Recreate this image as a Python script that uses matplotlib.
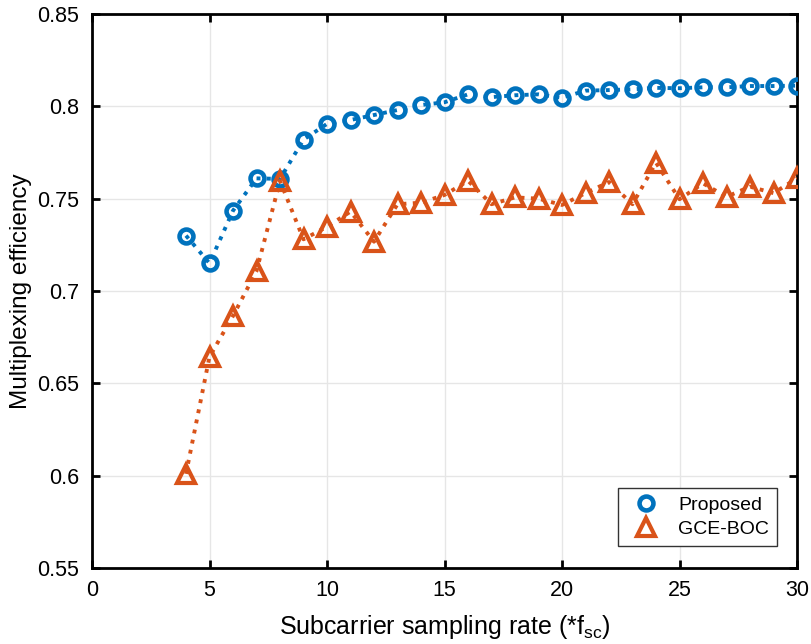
import matplotlib
matplotlib.use("Agg")
import matplotlib.pyplot as plt

plt.rcParams['font.family'] = ['Liberation Sans', 'DejaVu Sans']

x_rate = list(range(4, 31))
proposed = [0.730, 0.715, 0.7435, 0.761, 0.7607, 0.782, 0.7905, 0.7926, 0.7953, 0.798,
            0.8007, 0.8022, 0.8065, 0.805, 0.806, 0.8065, 0.8046, 0.8085, 0.8088, 0.8092,
            0.810, 0.8098, 0.8103, 0.8103, 0.811, 0.811, 0.8112]
gce_boc = [0.601, 0.6644, 0.6865, 0.7108, 0.7596, 0.728, 0.7348, 0.743, 0.7267, 0.747,
           0.7478, 0.752, 0.7597, 0.747, 0.7507, 0.750, 0.7466, 0.753, 0.759, 0.747,
           0.7695, 0.7497, 0.7583, 0.751, 0.7565, 0.753, 0.761]
xticks = [0, 5, 10, 15, 20, 25, 30]
yticks = [0.55, 0.6, 0.65, 0.7, 0.75, 0.8, 0.85]
ytick_labels = ['0.55', '0.6', '0.65', '0.7', '0.75', '0.8', '0.85']

blue = '#0072BD'
orange = '#D95319'

fig = plt.figure(figsize=(8.11, 6.44), dpi=100)
ax = fig.add_axes([92/811, 1-568/644, (797-92)/811, (568-14)/644])

ax.plot(x_rate, proposed, linestyle=':', color=blue, linewidth=2.8,
        marker='o', markersize=10, markeredgewidth=3.3, markerfacecolor='none',
        markeredgecolor=blue, label='Proposed', zorder=3)
ax.plot(x_rate, gce_boc, linestyle=':', color=orange, linewidth=2.8,
        marker='^', markersize=13, markeredgewidth=3.0, markerfacecolor='none',
        markeredgecolor=orange, label='GCE-BOC', zorder=3)

ax.set_xlim(0, 30)
ax.set_ylim(0.55, 0.85)
ax.set_xticks(xticks)
ax.set_yticks(yticks)
ax.set_yticklabels(ytick_labels)
ax.grid(True, color='#e6e6e6', linewidth=1.0)
ax.set_axisbelow(True)
ax.tick_params(direction='in', length=6, width=2, top=True, right=True,
               labelsize=15.5, pad=9, colors='black')
for s in ax.spines.values():
    s.set_linewidth(2)
    s.set_color('black')

ax.set_xlabel('Subcarrier sampling rate (*f$_{\\mathregular{sc}}$)', fontsize=18, labelpad=8)
ax.set_ylabel('Multiplexing efficiency', fontsize=17.5, labelpad=4)

leg = ax.legend(loc='lower right', bbox_to_anchor=(0.9716, 0.0397), borderaxespad=0,
                fontsize=14, fancybox=False, framealpha=1, edgecolor='#333333',
                handlelength=2.05, handletextpad=0.65, borderpad=0.4, labelspacing=0.35)
leg.get_frame().set_linewidth(1.0)
for h in leg.get_lines():
    h.set_linestyle('none')

fig.savefig('out.png', dpi=100)
